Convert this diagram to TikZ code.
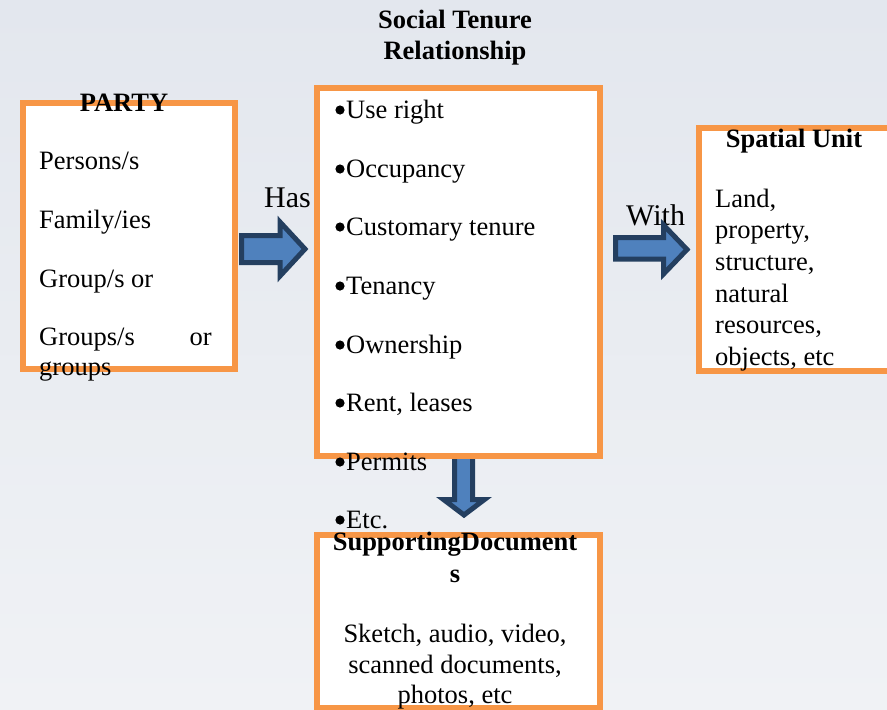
\documentclass[tikz,border=0pt]{standalone}
\usepackage{fontspec}
\setmainfont{Liberation Serif}
\definecolor{boxorange}{HTML}{F79646}
\definecolor{arrowfill}{HTML}{4F81BD}
\definecolor{arrowedge}{HTML}{243F60}
\definecolor{bgtop}{HTML}{E3E7EE}
\definecolor{bgbot}{HTML}{F0F2F5}
\begin{document}
\begin{tikzpicture}[x=1pt,y=-1pt,
  frame/.style={draw=boxorange, line width=5.5pt, fill=white, inner sep=0pt, anchor=north west},
  body/.style={inner sep=0pt, font=\fontsize{26.5}{31}\selectfont},
  lft/.style={body, anchor=base west},
  ctr/.style={body, anchor=base},
  rgt/.style={body, anchor=base east},
  ttl/.style={inner sep=0pt, anchor=base, font=\fontsize{26.5}{31}\selectfont\bfseries},
  verb/.style={inner sep=0pt, anchor=base west, font=\fontsize{30}{34}\selectfont},
  blockarrow/.style={fill=arrowfill, draw=arrowedge, line width=5pt, line join=miter}]
\useasboundingbox (0,0) rectangle (887,710);
\clip (0,0) rectangle (887,710);
\shade[top color=bgtop, bottom color=bgbot] (0,0) rectangle (887,710);

% verbs
\node[verb] (has) at (264,207) {Has};
\node[verb] (with) at (626,225) {With};

% block arrows
\draw[blockarrow] (241.5,235.5) -- (280,235.5) -- (280,222) -- (305,249) -- (280,276) -- (280,262.5) -- (241.5,262.5) -- cycle;
\draw[blockarrow] (615.5,237.5) -- (663.5,237.5) -- (663.5,225) -- (687,249.5) -- (663.5,274) -- (663.5,259) -- (615.5,259) -- cycle;
\draw[blockarrow] (454.5,448) -- (454.5,499.5) -- (443.5,499.5) -- (464,515) -- (484.5,499.5) -- (472.5,499.5) -- (472.5,448) -- cycle;

% boxes
\node[frame, minimum width=212pt, minimum height=266pt] (party) at (20,100) {};
\node[frame, minimum width=283pt, minimum height=368pt] (str) at (314,85) {};
\node[frame, minimum width=215pt, minimum height=243pt] (spatial) at (696,125) {};
\node[frame, minimum width=283pt, minimum height=173pt] (supp) at (314,532) {};

% PARTY
\node[ttl] (partyt) at (124,111) {PARTY};
\node[lft] (p1) at (39,169) {Persons/s};
\node[lft] (p2) at (39,228) {Family/ies};
\node[lft] (p3) at (39,287) {Group/s or};
\node[lft] (p4) at (39,345) {Groups/s};
\node[rgt] (p4b) at (212,345) {or};
\node[lft] (p5) at (39,375) {groups};

% Social Tenure Relationship
\node[ttl] (strt1) at (455,28) {Social Tenure};
\node[ttl] (strt2) at (455,59) {Relationship};
\foreach \y/\t [count=\i] in {118/Use right,177/Occupancy,235/Customary tenure,294/Tenancy,353/Ownership,411/{Rent, leases},470/Permits,528/Etc.}{
  \fill (340,\y-8) circle (4.6pt);
  \node[lft] (s\i) at (346,\y) {\t};
}

% Spatial Unit
\node[ttl] (spt) at (794,147) {Spatial Unit};
\node[lft] (u1) at (715,207) {Land,};
\node[lft] (u2) at (715,238) {property,};
\node[lft] (u3) at (715,270) {structure,};
\node[lft] (u4) at (715,302) {natural};
\node[lft] (u5) at (715,333) {resources,};
\node[lft] (u6) at (715,365) {objects, etc};

% Supporting Documents
\node[ttl] (sdt1) at (455,550) {SupportingDocument};
\node[ttl] (sdt2) at (455,582) {s};
\node[ctr] (d1) at (455,642) {Sketch, audio, video,};
\node[ctr] (d2) at (455,673) {scanned documents,};
\node[ctr] (d3) at (455,703) {photos, etc};
\end{tikzpicture}
\end{document}
